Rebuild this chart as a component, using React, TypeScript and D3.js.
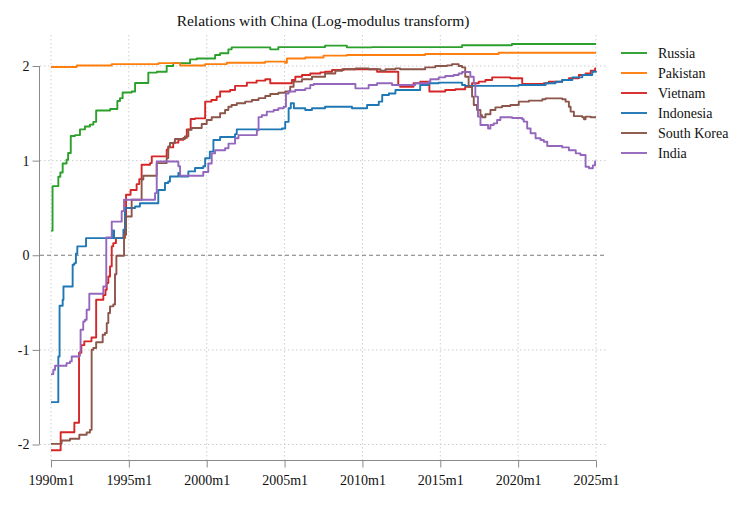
import React, { useRef, useEffect } from "react";
import * as d3 from "d3";

// [decimal year, log-modulus value]
const russia: [number, number][] = [
  [1990.0, 0.26], [1990.1, 0.73], [1990.47, 0.83], [1990.6, 0.875], [1990.75, 0.97],
  [1991.0, 1.01], [1991.1, 1.08], [1991.27, 1.26], [1991.54, 1.27], [1991.86, 1.33],
  [1992.18, 1.36], [1992.5, 1.38], [1992.72, 1.41], [1992.9, 1.53], [1993.8, 1.545],
  [1994.26, 1.63], [1994.43, 1.66], [1994.6, 1.72], [1995.18, 1.73], [1995.4, 1.82],
  [1996.25, 1.93], [1996.8, 1.94], [1997.43, 2.0], [1997.85, 2.03], [1998.93, 2.07],
  [1999.36, 2.08], [2000.54, 2.116], [2000.86, 2.134], [2001.39, 2.176], [2001.6, 2.197],
  [2004.08, 2.176], [2004.6, 2.2], [2007.6, 2.215], [2009.0, 2.197], [2010.6, 2.2],
  [2016.4, 2.22], [2019.6, 2.232], [2025.0, 2.232],
];

const pakistan: [number, number][] = [
  [1990.0, 1.99], [1991.65, 2.006], [1993.9, 2.02], [1996.9, 2.03], [1998.29, 2.005],
  [1999.9, 2.02], [2001.29, 2.035], [2003.75, 2.046], [2005.04, 2.035], [2005.15, 2.08],
  [2006.33, 2.09], [2007.5, 2.11], [2009.0, 2.116], [2014.03, 2.127], [2018.75, 2.14],
  [2025.0, 2.14],
];

const vietnam: [number, number][] = [
  [1990.0, -2.06], [1990.62, -1.87], [1991.5, -1.77], [1991.8, -1.03], [1991.95, -0.95],
  [1992.14, -0.91], [1992.6, -0.87], [1992.9, -0.47], [1993.36, -0.42], [1993.5, -0.365],
  [1993.58, -0.294], [1993.68, -0.224], [1993.79, -0.118], [1993.9, 0.094], [1994.0, 0.128],
  [1994.17, 0.181], [1994.75, 0.393], [1994.82, 0.64], [1995.11, 0.69], [1995.5, 0.752],
  [1995.67, 0.805], [1995.82, 0.957], [1996.36, 0.974], [1996.47, 1.045], [1997.43, 1.115],
  [1997.53, 1.14], [1997.85, 1.19], [1998.18, 1.22], [1998.5, 1.24], [1998.72, 1.33],
  [1998.97, 1.44], [1999.25, 1.447], [1999.9, 1.623], [2000.3, 1.64], [2000.64, 1.676],
  [2000.86, 1.73], [2001.5, 1.746], [2001.82, 1.79], [2002.58, 1.824], [2003.2, 1.845],
  [2003.76, 1.86], [2004.08, 1.817], [2005.47, 1.852], [2005.69, 1.887], [2006.12, 1.905],
  [2006.65, 1.92], [2007.3, 1.933], [2007.6, 1.94], [2008.05, 1.958], [2008.8, 1.965],
  [2010.94, 1.94], [2012.3, 1.8], [2012.42, 1.78], [2013.28, 1.817], [2013.71, 1.834],
  [2014.3, 1.73], [2015.32, 1.746], [2015.97, 1.754], [2016.6, 1.78], [2017.04, 1.817],
  [2017.47, 1.835], [2017.9, 1.852], [2018.33, 1.88], [2019.5, 1.87], [2020.26, 1.81],
  [2021.65, 1.817], [2021.97, 1.834], [2022.83, 1.852], [2023.26, 1.87], [2023.9, 1.905],
  [2024.33, 1.92], [2024.66, 1.95], [2024.94, 1.975], [2025.0, 1.975],
];

const indonesia: [number, number][] = [
  [1990.0, -1.552], [1990.47, -1.07], [1990.55, -0.534], [1990.75, -0.47], [1990.8, -0.33],
  [1991.39, -0.1], [1991.5, -0.083], [1991.6, 0.016], [1991.69, 0.094], [1992.25, 0.181],
  [1993.96, 0.262], [1994.05, 0.181], [1994.65, 0.27], [1994.75, 0.5], [1995.4, 0.515],
  [1995.71, 0.55], [1996.89, 0.69], [1997.32, 0.763], [1997.53, 0.78], [1997.64, 0.833],
  [1998.18, 0.869], [1998.29, 0.833], [1998.82, 0.886], [1999.25, 0.922], [1999.78, 0.94],
  [1999.9, 1.025], [2000.2, 1.095], [2000.43, 1.218], [2000.86, 1.25], [2001.82, 1.28],
  [2001.93, 1.33], [2004.83, 1.34], [2005.04, 1.41], [2005.26, 1.553], [2005.4, 1.606],
  [2005.6, 1.553], [2006.33, 1.535], [2006.76, 1.553], [2007.6, 1.57], [2009.33, 1.553],
  [2010.3, 1.588], [2011.05, 1.623], [2011.27, 1.694], [2011.7, 1.71], [2012.12, 1.746],
  [2013.71, 1.8], [2014.25, 1.817], [2014.9, 1.824], [2016.4, 1.8], [2016.6, 1.79],
  [2020.04, 1.8], [2021.76, 1.817], [2022.4, 1.834], [2022.83, 1.852], [2023.48, 1.88],
  [2024.12, 1.905], [2024.76, 1.94], [2025.0, 1.95],
];

const southKorea: [number, number][] = [
  [1990.0, -1.993], [1990.68, -1.957], [1991.22, -1.94], [1991.82, -1.897], [1992.29, -1.873],
  [1992.5, -1.845], [1992.61, -0.999], [1992.72, -0.98], [1992.9, -0.92], [1993.32, -0.84],
  [1993.47, -0.822], [1993.58, -0.717], [1993.68, -0.61], [1993.79, -0.54], [1994.0, -0.52],
  [1994.11, -0.2], [1994.2, -0.006], [1994.69, 0.217], [1994.82, 0.41], [1995.18, 0.587],
  [1995.82, 0.8], [1995.93, 0.84], [1996.79, 0.974], [1997.43, 1.027], [1997.53, 1.15],
  [1997.64, 1.186], [1997.96, 1.228], [1998.6, 1.256], [1998.82, 1.327], [1999.03, 1.345],
  [1999.68, 1.387], [2000.0, 1.43], [2000.32, 1.458], [2000.86, 1.5], [2001.18, 1.535],
  [2001.39, 1.57], [2001.6, 1.588], [2001.93, 1.606], [2002.47, 1.623], [2002.9, 1.64],
  [2003.33, 1.66], [2003.76, 1.683], [2004.08, 1.704], [2004.6, 1.718], [2005.04, 1.73],
  [2005.36, 1.78], [2005.58, 1.835], [2006.12, 1.86], [2006.76, 1.887], [2007.6, 1.92],
  [2008.26, 1.95], [2008.7, 1.965], [2009.55, 1.975], [2010.4, 1.965], [2011.16, 1.95],
  [2011.48, 1.965], [2012.12, 1.975], [2012.42, 1.965], [2014.03, 1.986], [2014.68, 2.0],
  [2015.43, 2.007], [2015.75, 2.02], [2016.18, 2.0], [2016.4, 1.986], [2016.6, 1.887],
  [2016.82, 1.78], [2017.04, 1.676], [2017.15, 1.588], [2017.36, 1.535], [2017.58, 1.48],
  [2017.68, 1.458], [2017.9, 1.49], [2018.22, 1.535], [2018.54, 1.563], [2018.97, 1.577],
  [2019.5, 1.588], [2020.04, 1.623], [2020.69, 1.634], [2021.55, 1.648], [2021.76, 1.658],
  [2022.83, 1.648], [2023.05, 1.623], [2023.26, 1.57], [2023.37, 1.518], [2023.58, 1.47],
  [2024.12, 1.458], [2024.23, 1.437], [2024.33, 1.465], [2024.66, 1.458], [2025.0, 1.458],
];

const india: [number, number][] = [
  [1990.0, -1.256], [1990.15, -1.21], [1990.26, -1.168], [1991.0, -1.14], [1991.22, -1.122],
  [1991.33, -1.07], [1991.82, -1.062], [1991.86, -1.017], [1991.9, -0.787], [1992.07, -0.7],
  [1992.18, -0.682], [1992.29, -0.576], [1992.46, -0.407], [1993.36, -0.33], [1993.55, 0.188],
  [1993.9, 0.355], [1994.54, 0.466], [1994.69, 0.587], [1996.68, 0.657], [1996.79, 0.99],
  [1998.18, 0.94], [1998.29, 0.84], [1999.78, 0.88], [2000.1, 0.97], [2000.32, 1.077],
  [2000.54, 1.11], [2001.18, 1.13], [2001.4, 1.18], [2001.82, 1.236], [2002.04, 1.27],
  [2003.22, 1.32], [2003.33, 1.46], [2003.54, 1.48], [2003.86, 1.518], [2004.3, 1.535],
  [2004.6, 1.553], [2004.94, 1.57], [2005.09, 1.71], [2005.26, 1.73], [2005.69, 1.746],
  [2006.33, 1.764], [2006.65, 1.8], [2006.87, 1.81], [2009.55, 1.764], [2010.4, 1.8],
  [2010.94, 1.817], [2011.9, 1.8], [2013.39, 1.817], [2014.25, 1.834], [2014.36, 1.86],
  [2014.9, 1.88], [2015.32, 1.894], [2015.86, 1.905], [2016.18, 1.92], [2016.4, 1.937],
  [2016.93, 1.887], [2017.15, 1.817], [2017.25, 1.676], [2017.42, 1.465], [2017.58, 1.377],
  [2018.07, 1.34], [2018.22, 1.377], [2018.43, 1.394], [2018.65, 1.43], [2018.86, 1.458],
  [2019.61, 1.45], [2020.26, 1.437], [2020.36, 1.412], [2020.58, 1.34], [2020.8, 1.29],
  [2021.12, 1.236], [2021.44, 1.218], [2021.65, 1.2], [2021.87, 1.155], [2022.83, 1.14],
  [2023.26, 1.11], [2023.7, 1.077], [2024.0, 1.06], [2024.33, 0.936], [2024.55, 0.92],
  [2024.8, 0.95], [2024.94, 0.99], [2025.0, 0.99],
];

const countries = ["Russia", "Pakistan", "Vietnam", "Indonesia", "South Korea", "India"];
const seriesValues = [russia, pakistan, vietnam, indonesia, southKorea, india];
const colors = ["#2ca02c", "#ff7f0e", "#d62728", "#1f77b4", "#8c564b", "#9467bd"];

const xTicks = [1990, 1995, 2000, 2005, 2010, 2015, 2020, 2025];
const xTickLabels = ["1990m1", "1995m1", "2000m1", "2005m1", "2010m1", "2015m1", "2020m1", "2025m1"];
const yTicks = [-2, -1, 0, 1, 2];

const title = "Relations with China (Log-modulus transform)";

const App: React.FC = () => {
  const ref = useRef<SVGSVGElement | null>(null);

  useEffect(() => {
    const svg = d3.select(ref.current);
    svg.selectAll("*").remove();

    const width = 756;
    const height = 505;
    const font = "'Liberation Serif', 'Times New Roman', serif";

    const plotLeft = 40;
    const plotRight = 607;
    const plotTop = 35;
    const plotBottom = 460.5;

    const x = d3.scaleLinear().domain([1990, 2025]).range([51, 596]);
    const y = d3.scaleLinear().domain([-2, 2]).range([444.5, 66]);

    svg.attr("width", width).attr("height", height);

    svg.append("rect").attr("width", width).attr("height", height).attr("fill", "#fff");

    svg.append("text")
      .attr("x", 323)
      .attr("y", 26)
      .attr("text-anchor", "middle")
      .style("font-family", font)
      .style("font-size", "15.5px")
      .attr("fill", "#111")
      .text(title);

    // grid
    const grid = svg.append("g");
    grid.selectAll("line.vg")
      .data(xTicks)
      .enter()
      .append("line")
      .attr("x1", (d) => x(d))
      .attr("x2", (d) => x(d))
      .attr("y1", plotTop)
      .attr("y2", plotBottom)
      .attr("stroke", "#cfcfcf")
      .attr("stroke-width", 1)
      .attr("stroke-dasharray", "1.5,2.5");

    grid.selectAll("line.hg")
      .data(yTicks.filter((d) => d !== 0))
      .enter()
      .append("line")
      .attr("x1", plotLeft)
      .attr("x2", plotRight)
      .attr("y1", (d) => y(d))
      .attr("y2", (d) => y(d))
      .attr("stroke", "#cfcfcf")
      .attr("stroke-width", 1)
      .attr("stroke-dasharray", "1.5,2.5");

    grid.append("line")
      .attr("x1", plotLeft)
      .attr("x2", plotRight)
      .attr("y1", y(0))
      .attr("y2", y(0))
      .attr("stroke", "#7a7a7a")
      .attr("stroke-width", 1)
      .attr("stroke-dasharray", "4,3");

    // axes
    const yAxis = svg.append("g").attr("transform", `translate(${plotLeft - 0.5},0)`);
    yAxis.call(
      d3.axisLeft(y).tickValues(yTicks).tickSize(7).tickPadding(3).tickFormat((d) => `${d}`)
    );
    const xAxis = svg.append("g").attr("transform", `translate(0,${plotBottom})`);
    xAxis.call(
      d3.axisBottom(x).tickValues(xTicks).tickSize(7).tickPadding(8)
        .tickFormat((_d, i) => xTickLabels[i])
    );
    [yAxis, xAxis].forEach((g) => {
      g.select(".domain").attr("stroke", "#8a8a8a");
      g.selectAll(".tick line").attr("stroke", "#8a8a8a");
      g.selectAll(".tick text")
        .attr("fill", "#111")
        .style("font-family", font)
        .style("font-size", "14px");
    });
    xAxis.select(".domain").attr("d", `M${x(1990)},0H${x(2025)}`);
    yAxis.select(".domain").attr("d", `M0,${y(2)}V${y(-2)}`);

    // series
    const line = d3
      .line<[number, number]>()
      .x((d) => x(d[0]))
      .y((d) => y(d[1]))
      .curve(d3.curveStepAfter);

    svg.append("g")
      .selectAll("path")
      .data(seriesValues)
      .enter()
      .append("path")
      .attr("d", (d) => line(d) as string)
      .attr("fill", "none")
      .attr("stroke", (_d, i) => colors[i])
      .attr("stroke-width", 1.9)
      .attr("stroke-linejoin", "round");

    // legend
    const legend = svg.append("g");
    const rows = legend.selectAll("g")
      .data(countries)
      .enter()
      .append("g")
      .attr("transform", (_d, i) => `translate(621,${53 + i * 20})`);
    rows.append("line")
      .attr("x1", 0)
      .attr("x2", 26)
      .attr("stroke", (_d, i) => colors[i])
      .attr("stroke-width", 1.9);
    rows.append("text")
      .attr("x", 37)
      .attr("dy", "0.33em")
      .style("font-family", font)
      .style("font-size", "14px")
      .attr("fill", "#111")
      .text((d) => d);
  }, []);

  return <svg ref={ref} style={{ position: "absolute", left: 0, top: 0 }} />;
};

export default App;
